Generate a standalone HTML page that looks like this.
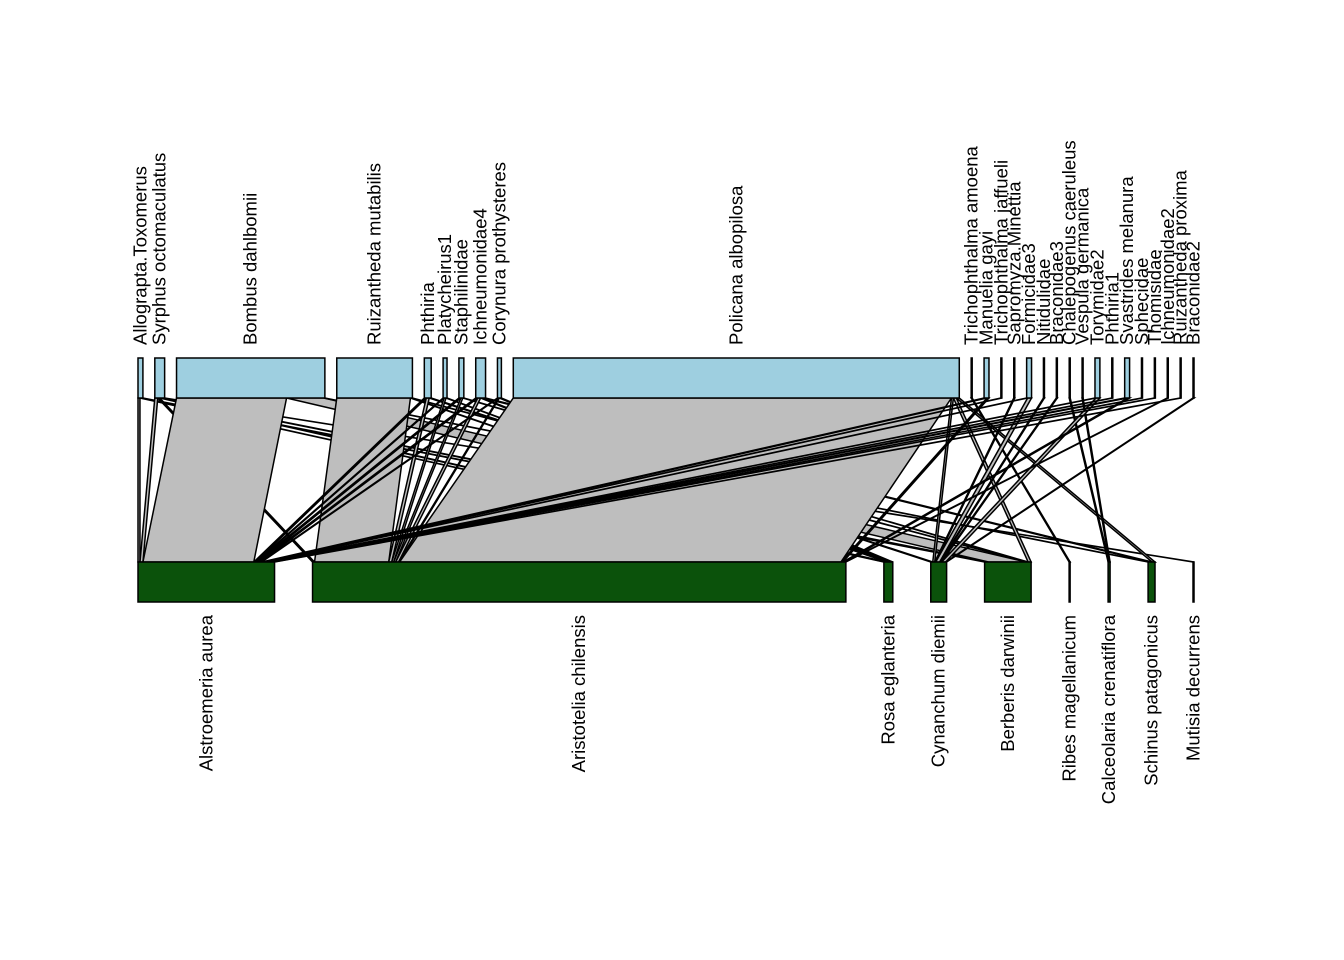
<!DOCTYPE html>
<html><head><meta charset="utf-8"><style>
html,body{margin:0;padding:0;background:#fff}
svg{display:block}
text{font-family:"Liberation Sans",sans-serif;font-size:18.5px;fill:#000}
</style></head>
<body>
<svg id="web" width="1344" height="960" viewBox="0 0 1344 960" xmlns="http://www.w3.org/2000/svg">
<rect width="1344" height="960" fill="#fff"/>
<g id="links"></g>
<g id="top"></g>
<g id="bot"></g>
</svg>
<script>
const topNames = ["Allograpta.Toxomerus","Syrphus octomaculatus","Bombus dahlbomii","Ruizantheda mutabilis","Phthiria","Platycheirus1","Staphilinidae","Ichneumonidae4","Corynura prothysteres","Policana albopilosa","Trichophthalma amoena","Manuelia gayi","Trichophthalma jaffueli","Sapromyza.Minettia","Formicidae3","Nitidulidae","Braconidae3","Chalepogenus caeruleus","Vespula germanica","Torymidae2","Phthiria1","Svastrides melanura","Sphecidae","Thomisidae","Ichneumonidae2","Ruizantheda proxima","Braconidae2"];
const botNames = ["Alstroemeria aurea","Aristotelia chilensis","Rosa eglanteria","Cynanchum diemii","Berberis darwinii","Ribes magellanicum","Calceolaria crenatiflora","Schinus patagonicus","Mutisia decurrens"];
// links: [top index, bottom index, interactions]
const linkTop = [0,0,0, 1,1,1,1,1, 2,2,2, 3,3,3, 4,4,4, 5,5,5, 6,6,6, 7,7,7,7, 8,8,8, 9,9,9,9, 10, 11,11, 12, 13, 14,14, 15, 16, 17, 18, 19,19, 20, 21,21, 22, 23, 24, 25, 26];
const linkBot = [0,2,4, 0,1,2,4,8, 0,4,7, 1,2,4, 0,1,3, 0,1,2, 0,1,4, 0,1,2,7, 0,1,2, 1,3,4,7, 5, 0,1, 0, 3, 0,3, 3, 3, 6, 6, 0,3, 0, 0,1, 0, 0, 1, 0, 3];
const linkVal = [2,1,2, 3,2,2,2,1, 112,38,1, 75,1,1, 2,3,2, 1,2,1, 2,2,1, 2,3,2,3, 1,1,2, 446,2,3,3, 1, 3,2, 1, 1, 1,4, 1, 1, 1, 1, 1,4, 1, 3,2, 1, 1, 1, 1, 1];

const X0 = 138, X1 = 1194;
const TOPY = 358, TOPH = 40, BOTY = 562, BOTH = 40;
const TOPGAP = 11.9, BOTGAP = 38;
const NS = "http://www.w3.org/2000/svg";

function sums(n, idxArr){ const s = new Array(n).fill(0); idxArr.forEach((k,i)=>s[k]+=linkVal[i]); return s; }
const topSum = sums(topNames.length, linkTop);
const botSum = sums(botNames.length, linkBot);
function layout(sum, gap){
  const tot = sum.reduce((a,b)=>a+b,0);
  const sc = (X1 - X0 - gap*(sum.length-1)) / tot;
  const xs = []; let x = X0;
  sum.forEach(v=>{ xs.push([x, x + v*sc]); x += v*sc + gap; });
  return {xs, sc};
}
const TL = layout(topSum, TOPGAP), BL = layout(botSum, BOTGAP);

const order = linkTop.map((_,i)=>i);
const tStart = TL.xs.map(a=>a[0]), bStart = BL.xs.map(a=>a[0]);
const seg = [];
[...order].sort((a,b)=>linkTop[a]-linkTop[b] || linkBot[a]-linkBot[b]).forEach(i=>{
  const w = linkVal[i]*TL.sc; const t = linkTop[i];
  seg[i] = {t0: tStart[t], t1: tStart[t]+w}; tStart[t] += w;
});
[...order].sort((a,b)=>linkBot[a]-linkBot[b] || linkTop[a]-linkTop[b]).forEach(i=>{
  const w = linkVal[i]*BL.sc; const b = linkBot[i];
  seg[i].b0 = bStart[b]; seg[i].b1 = bStart[b]+w; bStart[b] += w;
});

const gl = document.getElementById('links');
order.forEach(i=>{
  const s = seg[i];
  const p = document.createElementNS(NS,'polygon');
  p.setAttribute('points', `${s.t0},${TOPY+TOPH} ${s.t1},${TOPY+TOPH} ${s.b1},${BOTY} ${s.b0},${BOTY}`);
  p.setAttribute('fill','#bebebe'); p.setAttribute('stroke','#000'); p.setAttribute('stroke-width','1.5');
  
  
  gl.appendChild(p);
});

function slug(s){ return s.toLowerCase().replace(/[^a-z0-9]+/g,'-'); }
const gt = document.getElementById('top');
TL.xs.forEach((a,k)=>{
  const w = Math.max(a[1]-a[0], 1);
  const r = document.createElementNS(NS,'rect');
  r.setAttribute('x', a[0]); r.setAttribute('y', TOPY); r.setAttribute('width', w); r.setAttribute('height', TOPH);
  r.setAttribute('fill','#9ecfe0'); r.setAttribute('stroke','#000'); r.setAttribute('stroke-width','1.5');
  
  
  gt.appendChild(r);
  const cx = a[0] + w/2;
  const t = document.createElementNS(NS,'text');
  t.setAttribute('transform', `translate(${cx+6},345) rotate(-90)`);
  t.textContent = topNames[k];
  
  
  gt.appendChild(t);
});
const gb = document.getElementById('bot');
BL.xs.forEach((a,k)=>{
  const w = Math.max(a[1]-a[0], 1);
  const r = document.createElementNS(NS,'rect');
  r.setAttribute('x', a[0]); r.setAttribute('y', BOTY); r.setAttribute('width', w); r.setAttribute('height', BOTH);
  r.setAttribute('fill','#0b520b'); r.setAttribute('stroke','#000'); r.setAttribute('stroke-width','1.5');
  
  
  gb.appendChild(r);
  const cx = a[0] + w/2;
  const t = document.createElementNS(NS,'text');
  t.setAttribute('transform', `translate(${cx+6},615) rotate(-90)`);
  t.setAttribute('text-anchor','end');
  t.textContent = botNames[k];
  
  
  gb.appendChild(t);
});
</script>
</body></html>
